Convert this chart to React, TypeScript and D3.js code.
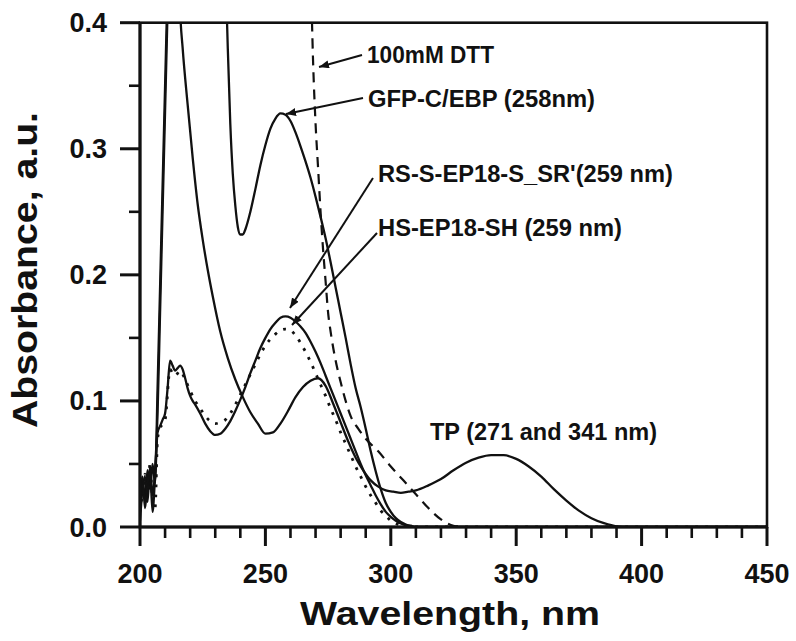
import React from 'react';
import * as d3 from 'd3';

// ---------- data ----------
const xMajorTicks = [200, 250, 300, 350, 400, 450];
const xMinorTicks = [210, 220, 230, 240, 260, 270, 280, 290, 310, 320, 330, 340, 360, 370, 380, 390, 410, 420, 430, 440];
const yMajorTicks = [0, 0.1, 0.2, 0.3, 0.4];
const yMinorTicks = [0.05, 0.15, 0.25, 0.35];

// TP (solid)
const tpWl = [200, 201, 202, 203, 204, 205, 206, 207, 208, 209, 210, 211, 212, 213, 214, 215, 216, 217, 219, 221, 223, 225, 227, 229, 232, 235, 238, 241, 244, 247, 250, 253, 256, 259, 262, 265, 268, 271, 274, 277, 280, 283, 286, 289, 292, 295, 298, 301, 304, 307, 310, 315, 320, 325, 330, 335, 340, 345, 350, 355, 360, 365, 370, 375, 380, 385, 390, 395, 400, 450];
const tpAbs = [0.012, 0.038, 0.022, 0.045, 0.03, 0.05, 0.035, 0.11, 0.19, 0.27, 0.35, 0.43, 0.52, 0.57, 0.56, 0.49, 0.41, 0.38, 0.335, 0.293, 0.256, 0.228, 0.204, 0.183, 0.155, 0.134, 0.117, 0.103, 0.091, 0.082, 0.074, 0.075, 0.082, 0.092, 0.103, 0.111, 0.116, 0.118, 0.112, 0.098, 0.083, 0.068, 0.055, 0.045, 0.037, 0.032, 0.029, 0.028, 0.027, 0.028, 0.029, 0.033, 0.038, 0.045, 0.051, 0.055, 0.057, 0.057, 0.054, 0.048, 0.04, 0.03, 0.021, 0.013, 0.007, 0.003, 0.0005, 0, 0, 0];

// GFP-C/EBP (solid)
const gfpWl = [200, 201, 202, 203, 204, 205, 206, 207, 208, 209, 210, 211, 212, 214, 217, 221, 225, 229, 232, 234, 235, 236, 237, 238, 239, 240, 241, 242, 244, 246, 248, 250, 252, 254, 256, 258, 260, 262, 264, 266, 268, 270, 272, 274, 276, 278, 280, 282, 284, 286, 288, 290, 292, 294, 296, 298, 300, 302, 304, 306, 308, 310, 450];
const gfpAbs = [0.005, 0.03, 0.04, 0.02, 0.048, 0.025, 0.045, 0.09, 0.17, 0.25, 0.33, 0.41, 0.5, 0.68, 0.85, 0.95, 0.92, 0.8, 0.6, 0.45, 0.38, 0.32, 0.28, 0.255, 0.238, 0.232, 0.232, 0.236, 0.25, 0.268, 0.287, 0.303, 0.316, 0.324, 0.328, 0.327, 0.322, 0.313, 0.302, 0.29, 0.277, 0.262, 0.246, 0.229, 0.21, 0.19, 0.17, 0.15, 0.129, 0.11, 0.095, 0.078, 0.06, 0.044, 0.03, 0.019, 0.012, 0.007, 0.004, 0.002, 0.001, 0, 0];

// RS-S-EP18-S_SR' (solid)
const rsWl = [200, 201, 202, 203, 204, 205, 206, 207, 208, 209, 210, 211, 212, 213, 214, 215, 216, 217, 218, 219, 220, 221, 222, 224, 226, 228, 230, 232, 234, 236, 238, 240, 242, 244, 246, 248, 250, 252, 254, 256, 258, 260, 262, 264, 266, 268, 270, 272, 274, 276, 278, 280, 282, 284, 286, 288, 290, 292, 294, 296, 298, 300, 302, 305, 308, 450];
const rsAbs = [0.02, 0.04, 0.015, 0.035, 0.045, 0.012, 0.04, 0.075, 0.08, 0.085, 0.09, 0.11, 0.132, 0.128, 0.124, 0.126, 0.128, 0.125, 0.118, 0.11, 0.104, 0.1, 0.097, 0.09, 0.082, 0.076, 0.073, 0.074, 0.078, 0.084, 0.092, 0.101, 0.111, 0.122, 0.132, 0.142, 0.15, 0.157, 0.162, 0.166, 0.167, 0.166, 0.163, 0.159, 0.154, 0.147, 0.139, 0.13, 0.12, 0.11, 0.1, 0.09, 0.08, 0.07, 0.06, 0.05, 0.041, 0.033, 0.025, 0.018, 0.012, 0.008, 0.005, 0.002, 0, 0];

// HS-EP18-SH (dotted)
const hsWl = [200, 201, 202, 203, 204, 205, 206, 207, 208, 210, 212, 213, 214, 216, 218, 220, 222, 224, 226, 228, 230, 232, 234, 236, 238, 240, 242, 244, 246, 248, 250, 252, 254, 256, 258, 260, 262, 264, 266, 268, 270, 272, 274, 276, 278, 280, 282, 284, 286, 288, 290, 292, 294, 296, 298, 300, 303, 306, 450];
const hsAbs = [0.03, 0.02, 0.042, 0.025, 0.05, 0.02, 0.015, 0.07, 0.078, 0.085, 0.125, 0.122, 0.12, 0.124, 0.117, 0.108, 0.1, 0.094, 0.088, 0.084, 0.082, 0.083, 0.085, 0.09, 0.097, 0.105, 0.113, 0.121, 0.129, 0.137, 0.144, 0.149, 0.153, 0.156, 0.157, 0.156, 0.152, 0.146, 0.139, 0.131, 0.122, 0.113, 0.104, 0.094, 0.085, 0.075, 0.066, 0.057, 0.048, 0.04, 0.032, 0.025, 0.019, 0.013, 0.009, 0.005, 0.002, 0, 0];

// 100mM DTT (dashed)
const dttWl = [265, 267, 268, 269, 270, 271, 272, 273, 274, 275, 276, 278, 280, 282, 284, 287, 290, 295, 300, 305, 310, 315, 320, 325, 330, 450];
const dttAbs = [0.9, 0.55, 0.45, 0.37, 0.32, 0.285, 0.25, 0.22, 0.195, 0.17, 0.155, 0.132, 0.115, 0.1, 0.088, 0.078, 0.07, 0.06, 0.048, 0.037, 0.026, 0.015, 0.006, 0.001, 0, 0];

const annotationLabels = ['100mM DTT', 'GFP-C/EBP (258nm)', "RS-S-EP18-S_SR'(259 nm)", 'HS-EP18-SH (259 nm)', 'TP (271 and 341 nm)'];
const xTitle = 'Wavelength, nm';
const yTitle = 'Absorbance, a.u.';

// ---------- chart ----------
const W = 796;
const H = 641;
const L = 140, R = 767, T = 22.7, B = 527;
const FONT = "'Liberation Sans', Arial, Helvetica, sans-serif";

const zip = (a: number[], b: number[]) => a.map((v, i) => [v, b[i]] as [number, number]);

export default function App() {
  const x = d3.scaleLinear().domain([200, 450]).range([L, R]);
  const y = d3.scaleLinear().domain([0, 0.4]).range([B, T]);
  const line = d3
    .line<[number, number]>()
    .x((d) => x(d[0]))
    .y((d) => y(d[1]))
    .curve(d3.curveMonotoneX);

  const series = [
    { d: zip(tpWl, tpAbs), dash: undefined as string | undefined, w: 2.3 },
    { d: zip(gfpWl, gfpAbs), dash: undefined, w: 2.3 },
    { d: zip(rsWl, rsAbs), dash: undefined, w: 2.3 },
    { d: zip(hsWl, hsAbs), dash: '2.8 7.2', w: 2.8 },
    { d: zip(dttWl, dttAbs), dash: '10 7', w: 2.2 },
  ];

  // annotation placement (pixels): text start, baseline, width, arrow from -> to
  const ann = [
    { tx: 367, ty: 63, tw: 127, x1: 362, y1: 55, x2: 319, y2: 67 },
    { tx: 368, ty: 107, tw: 227, x1: 363, y1: 98, x2: 286, y2: 114 },
    { tx: 378, ty: 182, tw: 295, x1: 373, y1: 178, x2: 290, y2: 308 },
    { tx: 378, ty: 236, tw: 244, x1: 377, y1: 233, x2: 292, y2: 325 },
    { tx: 430, ty: 440, tw: 227, x1: 0, y1: 0, x2: 0, y2: 0 },
  ];

  return (
    <svg
      width={W}
      height={H}
      viewBox={`0 0 ${W} ${H}`}
      style={{ position: 'absolute', left: 0, top: 0, background: '#fff' }}
      fontFamily={FONT}
      fontWeight="bold"
    >
      <defs>
        <clipPath id="plot">
          <rect x={L} y={T} width={R - L} height={B - T} />
        </clipPath>
        <marker id="ah" markerUnits="userSpaceOnUse" markerWidth="12" markerHeight="10" refX="10" refY="4" orient="auto">
          <path d="M0,0 L10,4 L0,8 z" fill="#111" />
        </marker>
      </defs>
      <rect x={0} y={0} width={W} height={H} fill="#fff" />

      {/* curves */}
      <g clipPath="url(#plot)">
        {series.map((s, i) => (
          <path
            key={i}
            d={line(s.d) || ''}
            fill="none"
            stroke="#111"
            strokeWidth={s.w}
            strokeDasharray={s.dash}
            strokeLinejoin="round"
          />
        ))}
      </g>

      {/* frame */}
      <rect x={L} y={T} width={R - L} height={B - T} fill="none" stroke="#111" strokeWidth={2.6} />
      <line x1={L - 1} x2={R + 1} y1={B} y2={B} stroke="#111" strokeWidth={3.2} />
      <line x1={L} x2={L} y1={T} y2={B} stroke="#111" strokeWidth={3} />

      {/* x ticks */}
      {xMajorTicks.map((v) => (
        <g key={'xm' + v}>
          <line x1={x(v)} x2={x(v)} y1={B} y2={B + 19} stroke="#111" strokeWidth={3} />
          <text x={x(v)} y={583} textAnchor="middle" fontSize={27} fill="#111">
            {v}
          </text>
        </g>
      ))}
      {xMinorTicks.map((v) => (
        <line key={'xn' + v} x1={x(v)} x2={x(v)} y1={B} y2={B + 11} stroke="#111" strokeWidth={2.6} />
      ))}

      {/* y ticks */}
      {yMajorTicks.map((v) => (
        <g key={'ym' + v}>
          <line x1={L - 20} x2={L} y1={y(v)} y2={y(v)} stroke="#111" strokeWidth={3} />
          <text x={107} y={y(v) + 9.5} textAnchor="end" fontSize={27} fill="#111">
            {v.toFixed(1)}
          </text>
        </g>
      ))}
      {yMinorTicks.map((v) => (
        <line key={'yn' + v} x1={L - 11} x2={L} y1={y(v)} y2={y(v)} stroke="#111" strokeWidth={2.6} />
      ))}

      {/* axis titles */}
      <text x={450} y={625} textAnchor="middle" fontSize={33} fill="#111" textLength={300} lengthAdjust="spacingAndGlyphs">
        {xTitle}
      </text>
      <text
        transform={`translate(37,270) rotate(-90)`}
        textAnchor="middle"
        fontSize={35}
        fill="#111"
        textLength={316}
        lengthAdjust="spacingAndGlyphs"
      >
        {yTitle}
      </text>

      {/* annotations */}
      {annotationLabels.map((t, i) => {
        const a = ann[i];
        return (
          <g key={'an' + i}>
            {a.x1 !== 0 && (
              <line x1={a.x1} y1={a.y1} x2={a.x2} y2={a.y2} stroke="#111" strokeWidth={2} markerEnd="url(#ah)" />
            )}
            <text x={a.tx} y={a.ty} fontSize={23.5} fill="#111" textLength={a.tw} lengthAdjust="spacingAndGlyphs">
              {t}
            </text>
          </g>
        );
      })}
    </svg>
  );
}
